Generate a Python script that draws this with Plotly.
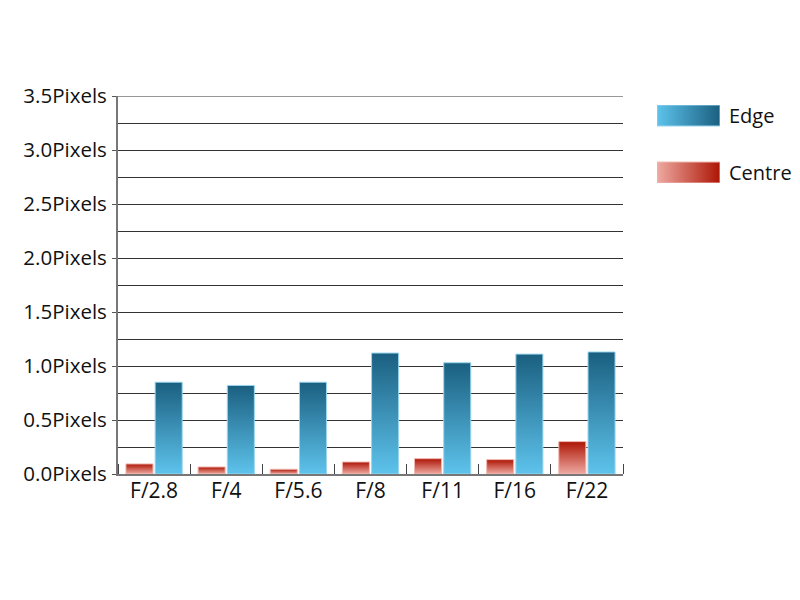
import plotly.graph_objects as go

categories = ["F/2.8", "F/4", "F/5.6", "F/8", "F/11", "F/16", "F/22"]
edge = [0.85, 0.82, 0.85, 1.12, 1.03, 1.11, 1.13]
centre = [0.093, 0.065, 0.044, 0.111, 0.142, 0.133, 0.30]
series_names = ["Edge", "Centre"]

BAR_W = 0.375
GAP = 0.015
FONT = "Open Sans, Noto Sans, sans-serif"

edge_scale = [[0, "#5ec3ec"], [1, "#1a5f80"]]
centre_scale = [[0, "#eeaaa2"], [1, "#ad1505"]]

# layout geometry (pixels); page body has an 8px margin
OFF = 8
W, H = 800 - OFF, 600 - OFF
ML, MT = 118 - OFF, 96 - OFF
PLOT_W, PLOT_H = 505, 378
MB = H - MT - PLOT_H
AREA_W = W - ML

fig = go.Figure()

def add_bar(i, val, left, name, scale, line_col):
    x0, x1 = i + left, i + left + BAR_W
    fig.add_trace(go.Scatter(
        x=[x0, x1, x1, x0, x0], y=[0, 0, val, val, 0],
        mode="lines", fill="toself",
        fillgradient=dict(type="vertical", colorscale=scale, start=0, stop=val),
        line=dict(color=line_col, width=1),
        name=name, showlegend=False, hoverinfo="skip",
    ))

for i, v in enumerate(centre):
    add_bar(i, v, -GAP - BAR_W, "Centre", centre_scale, "#f0b8b0")
for i, v in enumerate(edge):
    add_bar(i, v, GAP, "Edge", edge_scale, "#9ad6ee")

# manual legend with gradient swatches on an auxiliary hidden axis
leg_rows = {"Edge": (57, 78, edge_scale, "#9ad6ee"), "Centre": (0, 21, centre_scale, "#f0b8b0")}
for name in series_names:
    y0, y1, scale, lc = leg_rows[name]
    fig.add_trace(go.Scatter(
        x=[0, 1, 1, 0, 0], y=[y0, y0, y1, y1, y0],
        xaxis="x2", yaxis="y2", mode="lines", fill="toself",
        fillgradient=dict(type="horizontal", colorscale=scale, start=0, stop=1),
        line=dict(color=lc, width=1), showlegend=False, hoverinfo="skip",
    ))
    fig.add_annotation(x=1, y=(y0 + y1) / 2, xref="x2", yref="y2",
                       xanchor="left", yanchor="middle", xshift=7,
                       text=name, showarrow=False,
                       font=dict(size=20, family=FONT, color="#111"))

# top gridline at 3.5
fig.add_shape(type="line", xref="x domain", yref="y", x0=0, x1=1, y0=3.5, y1=3.5,
              line=dict(color="#333", width=1))

leg_top, leg_bot = 105 - OFF, 183 - OFF
fig.update_layout(
    width=W, height=H,
    margin=dict(l=ML, r=0, t=MT, b=MB, autoexpand=False),
    paper_bgcolor="white", plot_bgcolor="white",
    font=dict(family=FONT, size=20, color="#111"),
    showlegend=False,
    xaxis=dict(domain=[0, PLOT_W / AREA_W], range=[-0.5, 6.5], tickmode="array",
               tickvals=list(range(len(categories))), ticktext=categories,
               ticks="", showgrid=False, zeroline=False, automargin=False,
               tickfont=dict(size=21), ticklabelstandoff=-3,
               showline=True, linecolor="#777", linewidth=2,
               minor=dict(tickmode="linear", tick0=-0.5, dtick=1,
                          ticks="inside", ticklen=10, tickcolor="#444",
                          tickwidth=1, showgrid=False)),
    yaxis=dict(range=[0, 3.5], dtick=0.5, tick0=0, tickformat=".1f", ticksuffix="Pixels",
               ticks="outside", ticklen=4, tickcolor="#555", tickwidth=1,
               tickfont=dict(size=20.5), automargin=False, ticklabelstandoff=1,
               showgrid=True, gridcolor="#333", gridwidth=1,
               zeroline=False, showline=True, linecolor="#777", linewidth=2,
               minor=dict(dtick=0.25, tick0=0, showgrid=True, gridcolor="#333", gridwidth=1)),
    xaxis2=dict(domain=[(657 - 118) / AREA_W, (720 - 118) / AREA_W], range=[0, 1],
                visible=False, fixedrange=True, anchor="y2"),
    yaxis2=dict(domain=[(MT + PLOT_H - leg_bot) / PLOT_H, (MT + PLOT_H - leg_top) / PLOT_H],
                range=[0, 78], visible=False, fixedrange=True, anchor="x2"),
)

fig.write_html("out.html")
